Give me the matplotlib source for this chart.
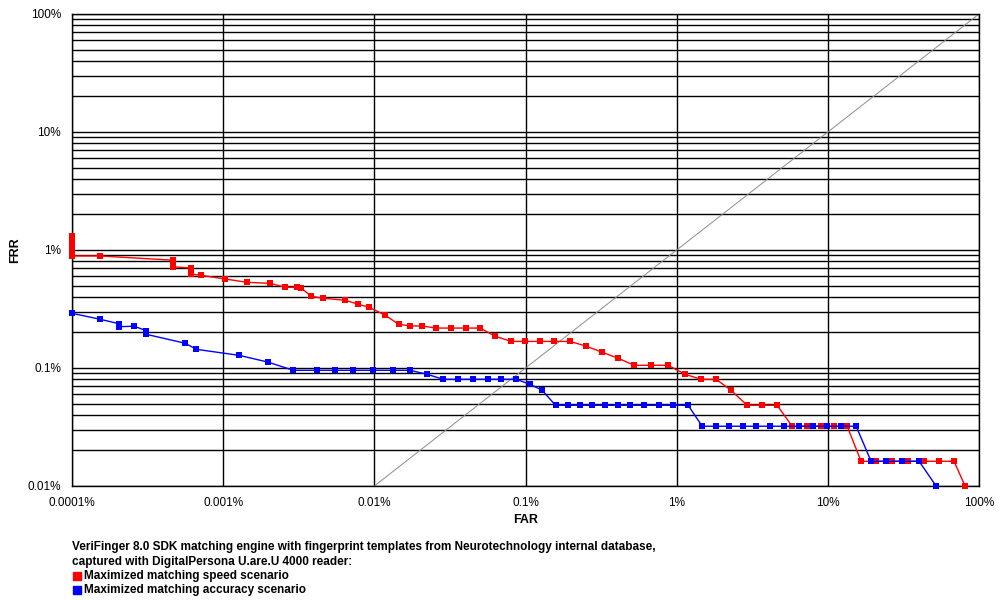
import matplotlib
matplotlib.use("Agg")
import matplotlib.pyplot as plt
from matplotlib.ticker import FixedLocator, LogLocator, NullFormatter

plt.rcParams["font.family"] = ["Liberation Sans", "DejaVu Sans"]

# ------------------------------------------------------------
# data (FAR %, FRR %)
# ------------------------------------------------------------
speed_far = [0.0001, 0.0001, 0.0001, 0.0001, 0.0001, 0.000153, 0.000466, 0.000466,
             0.000466, 0.000617, 0.000617, 0.000716, 0.001032, 0.001443, 0.002047,
             0.002575, 0.00309, 0.003285, 0.003826, 0.004592, 0.00642, 0.00783,
             0.00925, 0.01181, 0.01448, 0.01727, 0.02074, 0.02566, 0.03226, 0.04055,
             0.0501, 0.063, 0.0804, 0.0995, 0.125, 0.1549, 0.1975, 0.2521, 0.3214,
             0.4102, 0.5234, 0.6777, 0.8785, 1.138, 1.452, 1.825, 2.292, 2.925, 3.675,
             4.62, 5.806, 7.295, 9.03, 11.01, 13.42, 16.6, 20.86, 26.61, 33.96, 43.35,
             54.4, 68.4, 80.9]
speed_frr = [1.31, 1.2, 1.08, 0.97, 0.89, 0.89, 0.82, 0.76, 0.72, 0.704, 0.626, 0.61,
             0.568, 0.532, 0.522, 0.483, 0.483, 0.476, 0.405, 0.39, 0.375, 0.347,
             0.327, 0.28, 0.235, 0.227, 0.227, 0.218, 0.218, 0.218, 0.218, 0.186,
             0.168, 0.168, 0.168, 0.168, 0.168, 0.153, 0.136, 0.121, 0.1054, 0.1054,
             0.1054, 0.0884, 0.0802, 0.0802, 0.0647, 0.0483, 0.0483, 0.0483, 0.0321,
             0.0321, 0.0321, 0.0321, 0.0321, 0.0162, 0.0162, 0.0162, 0.0162, 0.0162,
             0.0162, 0.0162, 0.01]

accuracy_far = [0.0001, 0.000153, 0.0002055, 0.0002055, 0.0002582, 0.0003099,
                0.0003099, 0.0005614, 0.000664, 0.001278, 0.001987, 0.002908,
                0.004192, 0.005513, 0.00725, 0.00984, 0.01334, 0.01727, 0.02238,
                0.02856, 0.03589, 0.04508, 0.0566, 0.069, 0.0868, 0.1074, 0.1289,
                0.1581, 0.1915, 0.2301, 0.2762, 0.3365, 0.4102, 0.4921, 0.6095,
                0.7654, 0.9484, 1.191, 1.475, 1.825, 2.223, 2.753, 3.355, 4.15,
                5.143, 6.459, 7.997, 9.89, 12.25, 15.39, 19.33, 24.3, 30.99, 40.17,
                52.0]
accuracy_frr = [0.291, 0.259, 0.237, 0.224, 0.226, 0.207, 0.193, 0.162, 0.144, 0.128,
                0.112, 0.0956, 0.0956, 0.0956, 0.0956, 0.0956, 0.0956, 0.0956,
                0.0884, 0.0802, 0.0802, 0.0802, 0.0802, 0.0802, 0.0802, 0.0727,
                0.0647, 0.0483, 0.0483, 0.0483, 0.0483, 0.0483, 0.0483, 0.0483,
                0.0483, 0.0483, 0.0483, 0.0483, 0.0321, 0.0321, 0.0321, 0.0321,
                0.0321, 0.0321, 0.0321, 0.0321, 0.0321, 0.0321, 0.0321, 0.0321,
                0.0162, 0.0162, 0.0162, 0.0162, 0.01]

x_ticks = [0.0001, 0.001, 0.01, 0.1, 1, 10, 100]
x_labels = ["0.0001%", "0.001%", "0.01%", "0.1%", "1%", "10%", "100%"]
y_ticks = [0.01, 0.1, 1, 10, 100]
y_labels = ["0.01%", "0.1%", "1%", "10%", "100%"]

caption = ["VeriFinger 8.0 SDK matching engine with fingerprint templates from Neurotechnology internal database,",
           "captured with DigitalPersona U.are.U 4000 reader:"]
series_names = ["Maximized matching speed scenario", "Maximized matching accuracy scenario"]
series_colors = ["#ff0000", "#0000ff"]

# ------------------------------------------------------------
# plot
# ------------------------------------------------------------
fig = plt.figure(figsize=(10.05, 6.0), dpi=100)
ax = fig.add_axes([72 / 1005, 1 - 486 / 600, 907 / 1005, 472 / 600])

ax.set_xscale("log")
ax.set_yscale("log")
ax.set_xlim(0.0001, 100)
ax.set_ylim(0.01, 100)

# grid: every log step horizontally, decades only vertically
ax.yaxis.set_minor_locator(LogLocator(base=10, subs=range(2, 10)))
ax.yaxis.set_minor_formatter(NullFormatter())
ax.xaxis.set_minor_locator(FixedLocator([]))
ax.set_xticks(x_ticks)
ax.set_xticklabels(x_labels)
ax.set_yticks(y_ticks)
ax.set_yticklabels(y_labels)
ax.grid(True, which="major", axis="both", color="black", linewidth=1.0)
ax.grid(True, which="minor", axis="y", color="black", linewidth=1.0)
ax.tick_params(which="both", length=0, labelsize=8.5, pad=8)
for sp in ax.spines.values():
    sp.set_color("black")
    sp.set_linewidth(1.0)

# FAR = FRR diagonal
ax.plot([0.01, 100], [0.01, 100], color="#8c8c8c", linewidth=0.7, zorder=2)

ax.plot(speed_far, speed_frr, color=series_colors[0], linewidth=1.0, marker="s",
        markersize=4.5, markeredgewidth=0, zorder=3, clip_on=False)
ax.plot(accuracy_far, accuracy_frr, color=series_colors[1], linewidth=1.0, marker="s",
        markersize=4.5, markeredgewidth=0, zorder=3, clip_on=False)

ax.set_xlabel("FAR", fontsize=9, fontweight="bold")
ax.set_ylabel("FRR", fontsize=9, fontweight="bold")
ax.xaxis.set_label_coords(0.5, -28 / 472)
ax.yaxis.set_label_coords(-51 / 907, 0.5)

# caption / legend below the axes
fig.text(72 / 1005, 1 - 547 / 600, caption[0], fontsize=8.5, fontweight="bold", va="center")
fig.text(72 / 1005, 1 - 562 / 600, caption[1], fontsize=8.5, fontweight="bold", va="center")
for i, (name, c) in enumerate(zip(series_names, series_colors)):
    ypos = 1 - (576 + 14 * i) / 600
    fig.patches.append(plt.Rectangle((73 / 1005, ypos - 4 / 600), 8 / 1005, 8 / 600,
                                     transform=fig.transFigure, color=c))
    fig.text(84 / 1005, ypos, name, fontsize=8.5, fontweight="bold", va="center")

fig.savefig("out.png", dpi=100)
